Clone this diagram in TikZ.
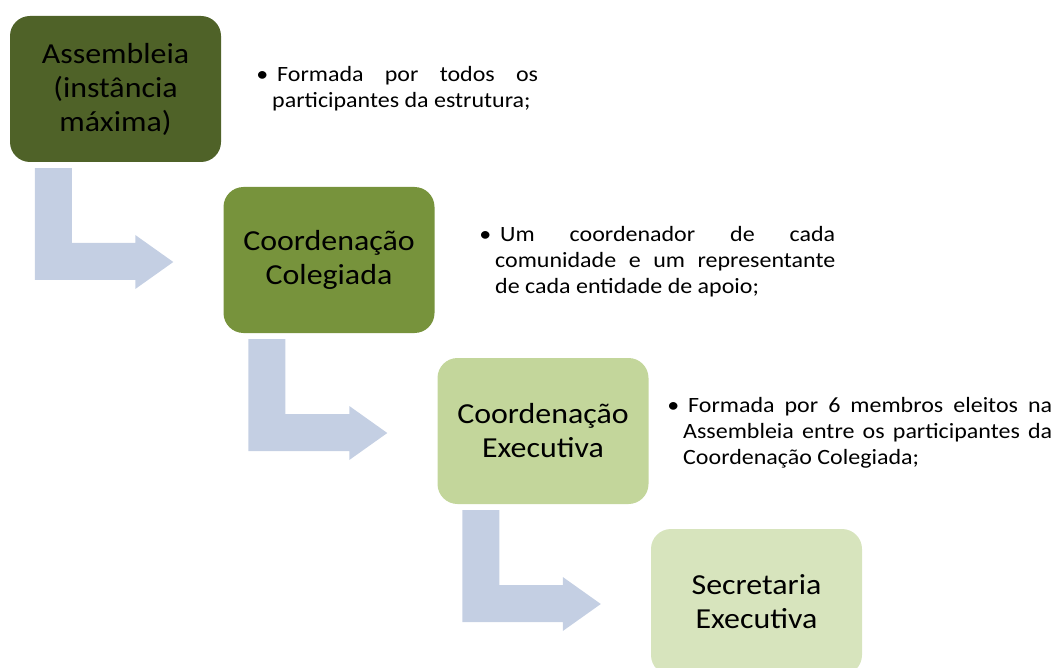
\documentclass[tikz,border=0pt]{standalone}
\usepackage{fontspec}
\setmainfont{Carlito}[FakeStretch=1.1]
\usetikzlibrary{calc}
\hyphenpenalty=10000
\exhyphenpenalty=10000

\definecolor{assembleiagreen}{HTML}{4F6228}
\definecolor{colegiadagreen}{HTML}{77933C}
\definecolor{executivagreen}{HTML}{C3D69B}
\definecolor{secretariagreen}{HTML}{D7E4BD}
\definecolor{arrowblue}{HTML}{C4CFE3}

\tikzset{
    levelbox/.style={rounded corners=20pt, minimum width=211pt, minimum height=146pt,
        inner sep=0pt, align=center, font=\fontsize{29}{34}\selectfont},
    bullettext/.style={inner sep=0pt, align=justify, anchor=north west,
        font=\fontsize{21.8}{26}\selectfont},
}

\newcommand{\bendarrow}[2]{%
    \coordinate (tip) at ($(#2.west)+(-50,2)$);
    \coordinate (foot) at ($(#1.south west)+(25,6)$);
    \fill[arrowblue] (foot) -- ++(37,0) -- ($(foot |- tip)+(37,-19)$)
        -- ($(tip)+(-38,-19)$) -- ($(tip)+(-38,-27)$) -- (tip)
        -- ($(tip)+(-38,27)$) -- ($(tip)+(-38,18)$)
        -- ($(foot |- tip)+(0,18)$) -- cycle;
}

\begin{document}
\begin{tikzpicture}[x=1pt, y=-1pt]
            \useasboundingbox (0, 0) rectangle (1057, 668);
            \clip (0, 0) rectangle (1057, 668);

            \node[levelbox, fill=assembleiagreen] (assembleia) at (115.5, 89) {Assembleia\\(instância\\máxima)};
            \node[levelbox, fill=colegiadagreen] (colegiada) at (329, 260) {Coordenação\\Colegiada};
            \node[levelbox, fill=executivagreen] (executiva) at (543, 431) {Coordenação\\Executiva};
            \node[levelbox, fill=secretariagreen] (secretaria) at (756.5, 602) {Secretaria\\Executiva};

            \foreach \a/\b in {assembleia/colegiada, colegiada/executiva, executiva/secretaria} {
                \bendarrow{\a}{\b}
            }

            \node[bullettext, text width=266pt] (formada) at (272, 66)
                {\llap{•\hspace{4pt}}\hspace{5pt}Formada por todos os\linebreak participantes da estrutura;};
            \node[bullettext, text width=340pt] (coordenador) at (495, 226)
                {\llap{•\hspace{4pt}}\hspace{5pt}Um coordenador de cada\linebreak comunidade e um representante\linebreak de cada entidade de apoio;};
            \node[bullettext, text width=369pt] (membros) at (683, 397)
                {\llap{•\hspace{4pt}}\hspace{5pt}Formada por 6 membros eleitos na\linebreak Assembleia entre os participantes da\linebreak Coordenação Colegiada;};
        \end{tikzpicture}
\end{document}
